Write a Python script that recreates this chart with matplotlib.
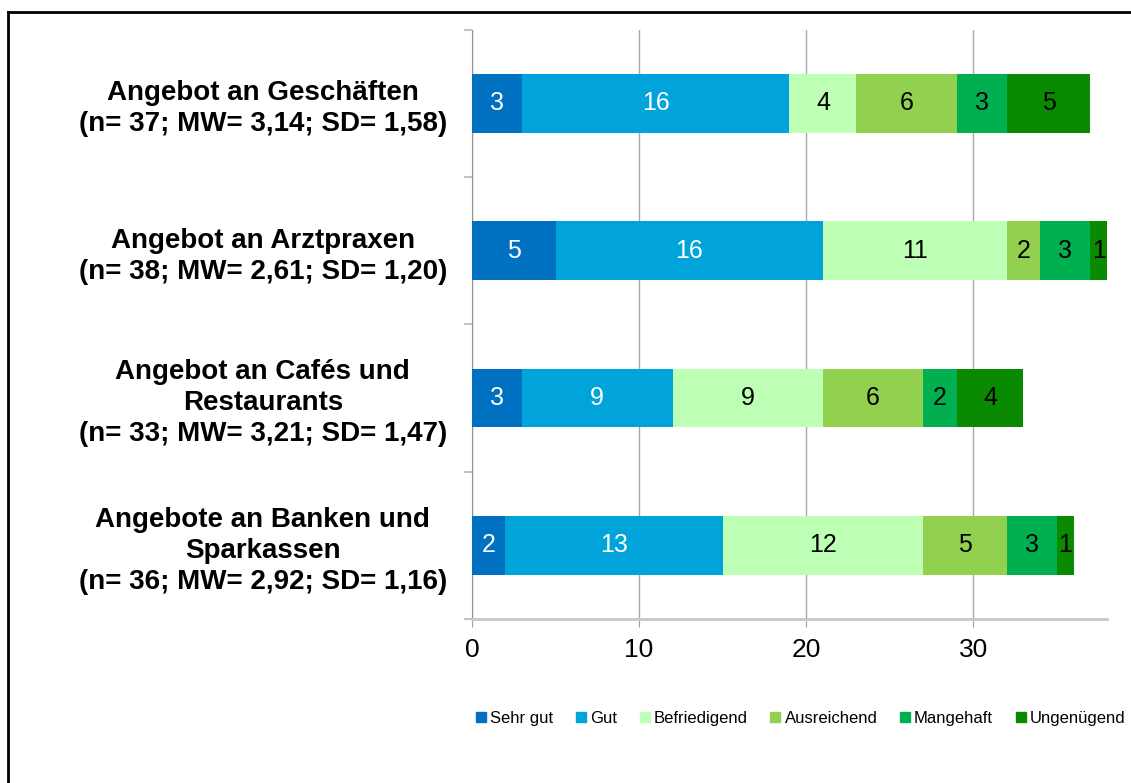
import numpy as np
import matplotlib
matplotlib.use("Agg")
import matplotlib.pyplot as plt
from matplotlib.lines import Line2D

plt.rcParams['font.family'] = ['Liberation Sans', 'DejaVu Sans']

# -------------------------
# Data
# -------------------------
categories = [
    "Angebot an Geschäften\n(n= 37; MW= 3,14; SD= 1,58)",
    "Angebot an Arztpraxen\n(n= 38; MW= 2,61; SD= 1,20)",
    "Angebot an Cafés und\nRestaurants\n(n= 33; MW= 3,21; SD= 1,47)",
    "Angebote an Banken und\nSparkassen\n(n= 36; MW= 2,92; SD= 1,16)",
]
grades = ["Sehr gut", "Gut", "Befriedigend", "Ausreichend", "Mangehaft", "Ungenügend"]
sehr_gut     = [3, 5, 3, 2]
gut          = [16, 16, 9, 13]
befriedigend = [4, 11, 9, 12]
ausreichend  = [6, 2, 6, 5]
mangelhaft   = [3, 3, 2, 3]
ungenuegend  = [5, 1, 4, 1]
series = [sehr_gut, gut, befriedigend, ausreichend, mangelhaft, ungenuegend]

colors = ["#0070C0", "#00A3DA", "#BDFFB4", "#92D050", "#00B050", "#0A8A00"]
text_colors = ["white", "white", "black", "black", "black", "black"]

# -------------------------
# Plot
# -------------------------
fig = plt.figure(figsize=(11.31, 7.83), dpi=100)
ax = fig.add_axes([0.4173, 0.2095, 0.9788 - 0.4173, 0.9621 - 0.2095])

y = np.arange(len(categories))
left = np.zeros(len(categories))
for vals, col, tcol, name in zip(series, colors, text_colors, grades):
    vals = np.array(vals, dtype=float)
    bars = ax.barh(y, vals, left=left, height=0.4, color=col, label=name, zorder=3)
    for b, v in zip(bars, vals):
        if v > 0:
            ax.text(b.get_x() + b.get_width() / 2, b.get_y() + b.get_height() / 2,
                    f"{int(v)}", ha='center', va='center', color=tcol,
                    fontsize=18, zorder=4)
    left += vals

ax.set_xlim(0, 38)
ax.set_ylim(3.5, -0.5)
ax.set_xticks([0, 10, 20, 30])
ax.set_xticklabels(["0", "10", "20", "30"], fontsize=19)
ax.tick_params(axis='x', length=6, color='#A0A0A0', pad=8)

ax.set_yticks(y)
ax.set_yticklabels(categories, fontsize=20, fontweight='bold',
                   multialignment='center', linespacing=1.25)
ax.tick_params(axis='y', which='major', length=0, pad=18)
ax.set_yticks(np.arange(-0.5, 4.0, 1.0), minor=True)
ax.tick_params(axis='y', which='minor', length=6, color='#C4C4C4', width=1.5)

ax.grid(True, axis='x', color='#A8A8A8', linewidth=1, zorder=0)
for s in ['top', 'right']:
    ax.spines[s].set_visible(False)
ax.spines['left'].set_color('#909090')
ax.spines['bottom'].set_color('#C8C8C8')
ax.spines['bottom'].set_linewidth(2)

handles = [Line2D([0], [0], marker='s', linestyle='none', markersize=7,
                  markerfacecolor=c, markeredgecolor=c) for c in colors]
fig.legend(handles, grades, loc='center', bbox_to_anchor=(0.708, 0.083),
           ncol=6, frameon=False, fontsize=12, handlelength=0.6,
           handletextpad=0.25, columnspacing=1.35)

# frame lines (left and top only, as in the cropped original)
fig.add_artist(Line2D([0.0071, 0.0071], [0.0, 0.9847], transform=fig.transFigure,
                      color='black', linewidth=2))
fig.add_artist(Line2D([0.0071, 1.0], [0.9847, 0.9847], transform=fig.transFigure,
                      color='black', linewidth=2))

fig.savefig("out.png", dpi=100)
